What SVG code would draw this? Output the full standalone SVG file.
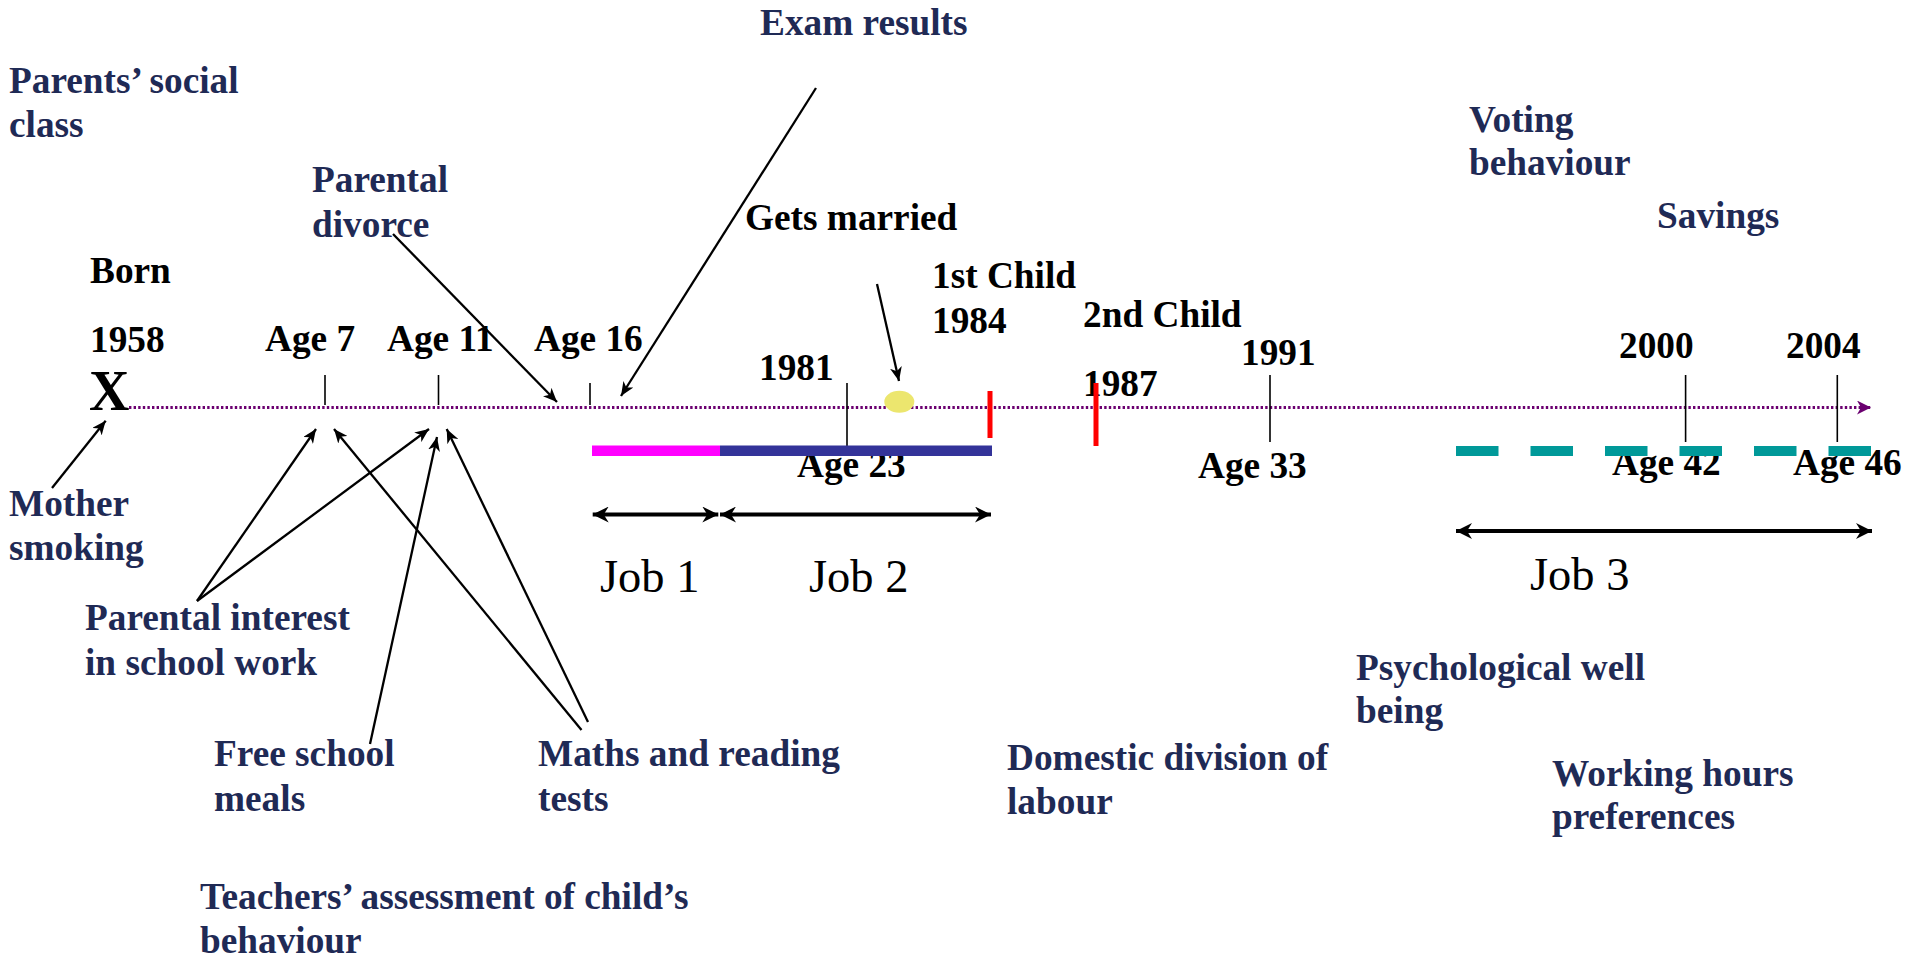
<svg xmlns="http://www.w3.org/2000/svg" width="1907" height="959" viewBox="0 0 1907 959">
<defs>
<style>
.b{font-family:"Liberation Serif","Times New Roman",serif;font-weight:bold;font-size:37.3px;fill:#1F2A55}
.k{font-family:"Liberation Serif","Times New Roman",serif;font-weight:bold;font-size:37.3px;fill:#000}
.j{font-family:"Liberation Serif","Times New Roman",serif;font-size:46.5px;fill:#000}
.tick{stroke:#000;stroke-width:1.6}
.conn{stroke:#000;stroke-width:2.3;fill:none;marker-end:url(#ah)}
.job{stroke:#000;stroke-width:4;fill:none;marker-start:url(#jh);marker-end:url(#jh)}
</style>
<marker id="ah" markerUnits="userSpaceOnUse" viewBox="0 0 14 12" refX="14" refY="6" markerWidth="14" markerHeight="12" orient="auto">
<path d="M0,0 L14,6 L0,12 L4,6 z" fill="#000"/>
</marker>
<marker id="jh" markerUnits="userSpaceOnUse" viewBox="0 0 16 16" refX="16" refY="8" markerWidth="16" markerHeight="16" orient="auto-start-reverse">
<path d="M0,0 L16,8 L0,16 L5,8 z" fill="#000"/>
</marker>
<marker id="th" markerUnits="userSpaceOnUse" viewBox="0 0 14 14" refX="14" refY="7" markerWidth="14" markerHeight="14" orient="auto">
<path d="M0,0 L14,7 L0,14 L4,7 z" fill="#6B0070"/>
</marker>
</defs>
<rect width="1907" height="959" fill="#fff"/>

<g id="timeline">
<line x1="129" y1="407.5" x2="1871" y2="407.5" stroke="#6B0070" stroke-width="3" stroke-dasharray="2.4 2.2" marker-end="url(#th)"/>
</g>

<g id="labels-under-bars">
<text class="k" x="797" y="477">Age 23</text>
<text class="k" x="1612" y="475">Age 42</text>
<text class="k" x="1793" y="475">Age 46</text>
</g>

<g id="ticks">
<line class="tick" x1="325" y1="375" x2="325" y2="405"/>
<line class="tick" x1="438.5" y1="375" x2="438.5" y2="405"/>
<line class="tick" x1="590" y1="383" x2="590" y2="405"/>
<line class="tick" x1="847" y1="383" x2="847" y2="446"/>
<line class="tick" x1="1270" y1="375" x2="1270" y2="442"/>
<line class="tick" x1="1685.6" y1="375" x2="1685.6" y2="442"/>
<line class="tick" x1="1837.3" y1="375" x2="1837.3" y2="442"/>
</g>

<g id="jobbars">
<rect x="592" y="445.5" width="128" height="10.5" fill="#FF00FF"/>
<rect x="720" y="445.5" width="272" height="10.5" fill="#333399"/>
<line x1="1456" y1="451" x2="1872" y2="451" stroke="#009999" stroke-width="10" stroke-dasharray="42.5 32"/>
</g>

<g id="events">
<ellipse cx="899.3" cy="401.7" rx="15" ry="11" fill="#ECE66E"/>
<rect x="987.5" y="391" width="5" height="47" fill="#FF0000"/>
</g>

<g id="node-born"><text class="k" x="90" y="283">Born</text><text class="k" x="90" y="352">1958</text><text class="k" x="89" y="410" style="font-size:56px">X</text></g>
<g id="node-age7"><text class="k" x="265" y="351">Age 7</text></g>
<g id="node-age11"><text class="k" x="387" y="351">Age 11</text></g>
<g id="node-age16"><text class="k" x="534" y="351">Age 16</text></g>
<g id="node-married"><text class="k" x="745" y="230">Gets married</text></g>
<g id="node-1981"><text class="k" x="759" y="380">1981</text></g>
<g id="node-child1"><text class="k" x="932" y="288">1st Child</text><text class="k" x="932" y="333">1984</text></g>
<g id="node-child2"><text class="k" x="1083" y="327">2nd Child</text><text class="k" x="1083" y="396">1987</text></g>
<g id="node-1991"><text class="k" x="1241" y="365">1991</text><text class="k" x="1198" y="478">Age 33</text></g>
<g id="node-2000"><text class="k" x="1619" y="358">2000</text></g>
<g id="node-2004"><text class="k" x="1786" y="358">2004</text></g>

<rect x="1093.5" y="383" width="5" height="63" fill="#FF0000"/>

<g id="node-parents-class"><text class="b" x="9" y="93">Parents’ social</text><text class="b" x="9" y="137">class</text></g>
<g id="node-divorce"><text class="b" x="312" y="192">Parental</text><text class="b" x="312" y="237">divorce</text></g>
<g id="node-exam"><text class="b" x="760" y="35">Exam results</text></g>
<g id="node-voting"><text class="b" x="1469" y="132">Voting</text><text class="b" x="1469" y="175">behaviour</text></g>
<g id="node-savings"><text class="b" x="1657" y="228">Savings</text></g>
<g id="node-mother"><text class="b" x="9" y="516">Mother</text><text class="b" x="9" y="560">smoking</text></g>
<g id="node-interest"><text class="b" x="85" y="630">Parental interest</text><text class="b" x="85" y="675">in school work</text></g>
<g id="node-meals"><text class="b" x="214" y="766">Free school</text><text class="b" x="214" y="811">meals</text></g>
<g id="node-tests"><text class="b" x="538" y="766">Maths and reading</text><text class="b" x="538" y="811">tests</text></g>
<g id="node-teachers"><text class="b" x="200" y="909">Teachers’ assessment of child’s</text><text class="b" x="200" y="953">behaviour</text></g>
<g id="node-domestic"><text class="b" x="1007" y="770">Domestic division of</text><text class="b" x="1007" y="814">labour</text></g>
<g id="node-psych"><text class="b" x="1356" y="680">Psychological well</text><text class="b" x="1356" y="723">being</text></g>
<g id="node-hours"><text class="b" x="1552" y="786">Working hours</text><text class="b" x="1552" y="829">preferences</text></g>

<g id="node-jobs">
<text class="j" x="600" y="592">Job 1</text>
<text class="j" x="809" y="592">Job 2</text>
<text class="j" x="1530" y="590">Job 3</text>
</g>

<g id="connectors">
<line class="conn" x1="393" y1="234" x2="557" y2="402"/>
<line class="conn" x1="816" y1="88" x2="621" y2="396"/>
<line class="conn" x1="877" y1="284" x2="899" y2="381"/>
<line class="conn" x1="52" y1="488" x2="105.7" y2="420.7"/>
<line class="conn" x1="197" y1="601" x2="316" y2="429"/>
<line class="conn" x1="197" y1="601" x2="429" y2="429"/>
<line class="conn" x1="370" y1="744" x2="437" y2="437"/>
<line class="conn" x1="581.5" y1="730" x2="334" y2="429"/>
<line class="conn" x1="588" y1="722" x2="446.7" y2="429"/>
<line class="job" x1="592.7" y1="514.5" x2="718.3" y2="514.5"/>
<line class="job" x1="720" y1="514.5" x2="991" y2="514.5"/>
<line class="job" x1="1456" y1="531" x2="1872" y2="531"/>
</g>
</svg>
